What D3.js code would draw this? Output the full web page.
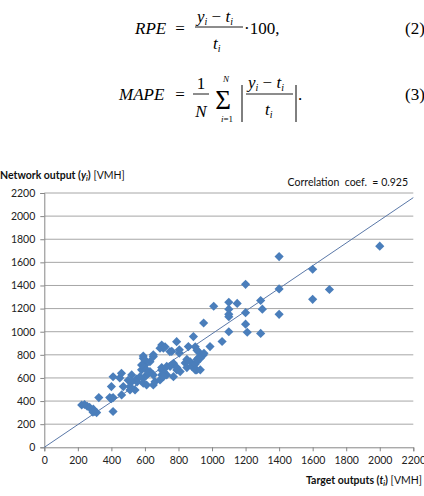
<!DOCTYPE html>
<html><head><meta charset="utf-8">
<script src="https://cdn.jsdelivr.net/npm/d3@7"></script>
<style>
html,body{margin:0;padding:0;background:#fff;}
svg{display:block;}
</style></head>
<body>
<svg id="c" width="424" height="496"></svg>
<script>
// ---- data ----
const targetOutputs = [223,240,256,270,292,300,312,290,325,390,410,400,410,
 400,410,450,460,461,471,500,511,521,541,550,553,521,511,
 580,590,600,600,590,610,600,580,590,610,650,660,590,570,
 630,650,620,630,650,650,690,700,730,700,710,700,730,
 700,710,690,720,710,749,770,750,770,760,
 789,805,805,790,810,790,840,850,859,870,850,880,
 889,900,900,909,910,910,918,918,900,910,948,952,930,930,988,
 950,1010,1060,1100,1100,1100,1100,1100,1150,1200,1200,1200,1210,1290,1290,1300,1400,1400,1400,1600,1600,1700,2000];
const networkOutputs = [366,370,355,345,330,310,300,305,430,430,430,420,310,
 525,610,600,640,453,525,580,496,626,496,590,565,568,525,
 670,790,713,756,770,626,684,712,554,539,539,568,595,610,
 655,626,640,741,785,800,583,626,626,669,655,690,700,
 885,857,857,870,610,828,727,700,611,830,
 914,843,815,669,655,690,730,760,871,740,690,700,
 958,720,670,669,740,760,828,770,870,840,799,814,770,670,871,
 1075,1220,915,1000,1130,1150,1195,1255,1245,1065,1165,1410,995,1270,985,1195,1150,1370,1650,1280,1540,1365,1740];
const xTicks = [0,200,400,600,800,1000,1200,1400,1600,1800,2000,2200];
const yTicks = [0,200,400,600,800,1000,1200,1400,1600,1800,2000,2200];
const trendEnd = [2200, 2160];
const corrLabel = "Correlation  coef.  = 0.925";

// ---- chart ----
const svg = d3.select("#c");
const x = d3.scaleLinear().domain([0,2200]).range([44.3,413.3]);
const y = d3.scaleLinear().domain([0,2200]).range([447.3,193]);
const font = "Lato, 'Open Sans', sans-serif";
const serif = "'Liberation Serif', 'DejaVu Serif', serif";

// equations
const eq = svg.append("g").attr("font-family", serif).attr("fill","#000");
// Eq (2)
eq.append("text").attr("x",135).attr("y",34).attr("font-size",17).attr("font-style","italic").text("RPE");
eq.append("text").attr("x",180).attr("y",34).attr("font-size",17).attr("text-anchor","middle").text("=");
let t = eq.append("text").attr("x",197).attr("y",22).attr("font-size",17);
t.append("tspan").attr("font-style","italic").text("y");
t.append("tspan").attr("font-style","italic").attr("font-size",10).attr("dy",3).text("i");
t.append("tspan").attr("dy",-3).text(" \u2212 ");
t.append("tspan").attr("font-style","italic").text("t");
t.append("tspan").attr("font-style","italic").attr("font-size",10).attr("dy",3).text("i");
eq.append("line").attr("x1",195).attr("x2",243).attr("y1",27).attr("y2",27).attr("stroke","#000").attr("stroke-width",0.9);
t = eq.append("text").attr("x",213).attr("y",49).attr("font-size",17);
t.append("tspan").attr("font-style","italic").text("t");
t.append("tspan").attr("font-style","italic").attr("font-size",10).attr("dy",3).text("i");
eq.append("text").attr("x",244).attr("y",34).attr("font-size",17).text("\u00b7100,");
eq.append("text").attr("x",405).attr("y",34).attr("font-size",17).text("(2)");

// Eq (3)
eq.append("text").attr("x",119).attr("y",100).attr("font-size",17).attr("font-style","italic").text("MAPE");
eq.append("text").attr("x",180).attr("y",100).attr("font-size",17).attr("text-anchor","middle").text("=");
eq.append("text").attr("x",201).attr("y",89).attr("font-size",17).attr("text-anchor","middle").text("1");
eq.append("line").attr("x1",193).attr("x2",209).attr("y1",94).attr("y2",94).attr("stroke","#000").attr("stroke-width",0.9);
eq.append("text").attr("x",201).attr("y",117).attr("font-size",17).attr("font-style","italic").attr("text-anchor","middle").text("N");
eq.append("text").attr("x",223).attr("y",109).attr("font-size",27).attr("text-anchor","middle").text("\u03a3");
eq.append("text").attr("x",226).attr("y",82).attr("font-size",9).attr("font-style","italic").attr("text-anchor","middle").text("N");
t = eq.append("text").attr("x",227).attr("y",122).attr("font-size",9).attr("text-anchor","middle");
t.append("tspan").attr("font-style","italic").text("i");
t.append("tspan").text("=1");
eq.append("line").attr("x1",242).attr("x2",242).attr("y1",85).attr("y2",122).attr("stroke","#000").attr("stroke-width",1);
eq.append("line").attr("x1",296).attr("x2",296).attr("y1",85).attr("y2",122).attr("stroke","#000").attr("stroke-width",1);
t = eq.append("text").attr("x",248).attr("y",88).attr("font-size",17);
t.append("tspan").attr("font-style","italic").text("y");
t.append("tspan").attr("font-style","italic").attr("font-size",10).attr("dy",3).text("i");
t.append("tspan").attr("dy",-3).text(" \u2212 ");
t.append("tspan").attr("font-style","italic").text("t");
t.append("tspan").attr("font-style","italic").attr("font-size",10).attr("dy",3).text("i");
eq.append("line").attr("x1",246).attr("x2",293).attr("y1",94).attr("y2",94).attr("stroke","#000").attr("stroke-width",0.9);
t = eq.append("text").attr("x",265).attr("y",115).attr("font-size",17);
t.append("tspan").attr("font-style","italic").text("t");
t.append("tspan").attr("font-style","italic").attr("font-size",10).attr("dy",3).text("i");
eq.append("text").attr("x",298).attr("y",100).attr("font-size",17).text(".");
eq.append("text").attr("x",405).attr("y",100).attr("font-size",17).text("(3)");

// gridlines
svg.append("g").selectAll("line").data(yTicks.filter(d=>d>0)).join("line")
  .attr("x1",x(0)).attr("x2",x(2200)).attr("y1",d=>y(d)).attr("y2",d=>y(d))
  .attr("stroke","#a6a6a6").attr("stroke-width",1);

// axes
const fmt = d3.format("d");
const xAxis = svg.append("g").attr("transform",`translate(0,${y(0)})`)
  .call(d3.axisBottom(x).tickValues(xTicks).tickFormat(fmt).tickSize(4).tickPadding(5));
const yAxis = svg.append("g").attr("transform",`translate(${x(0)},0)`)
  .call(d3.axisLeft(y).tickValues(yTicks).tickFormat(fmt).tickSize(4).tickPadding(5));
[xAxis,yAxis].forEach(a=>{
  a.select(".domain").attr("stroke","#868686");
  a.selectAll(".tick line").attr("stroke","#868686");
  a.selectAll("text").attr("font-family",font).attr("font-size",10.5).attr("fill","#222");
});

// trend line
svg.append("line").attr("x1",x(0)).attr("y1",y(0)).attr("x2",x(trendEnd[0])).attr("y2",y(trendEnd[1]))
  .attr("stroke","#5a78a8").attr("stroke-width",1);

// points
const pts = targetOutputs.map((d,i)=>[d,networkOutputs[i]]);
const diamond = d3.symbol().type(d3.symbolSquare).size(42);
svg.append("g").selectAll("path").data(pts).join("path")
  .attr("d",diamond)
  .attr("transform",d=>`translate(${x(d[0])},${y(d[1])}) rotate(45)`)
  .attr("fill","#4a7ebb");

// titles
let yt = svg.append("text").attr("x",0).attr("y",179).attr("font-family",font).attr("font-size",10.5).attr("fill","#111");
yt.append("tspan").attr("font-weight","bold").text("Network output (");
yt.append("tspan").attr("font-weight","bold").attr("font-style","italic").text("y");
yt.append("tspan").attr("font-weight","bold").attr("font-style","italic").attr("font-size",7).attr("dy",2).text("i");
yt.append("tspan").attr("font-weight","bold").attr("dy",-2).text(")");
yt.append("tspan").text(" [VMH]");

svg.append("text").attr("x",408).attr("y",185.5).attr("text-anchor","end")
  .attr("font-family",font).attr("font-size",10.5).attr("fill","#111").style("white-space","pre").text(corrLabel);

let xt = svg.append("text").attr("x",422).attr("y",484).attr("text-anchor","end").attr("font-family",font).attr("font-size",10.5).attr("fill","#111");
xt.append("tspan").attr("font-weight","bold").text("Target outputs (");
xt.append("tspan").attr("font-weight","bold").attr("font-style","italic").text("t");
xt.append("tspan").attr("font-weight","bold").attr("font-style","italic").attr("font-size",7).attr("dy",2).text("i");
xt.append("tspan").attr("font-weight","bold").attr("dy",-2).text(")");
xt.append("tspan").text(" [VMH]");
</script>
</body></html>
